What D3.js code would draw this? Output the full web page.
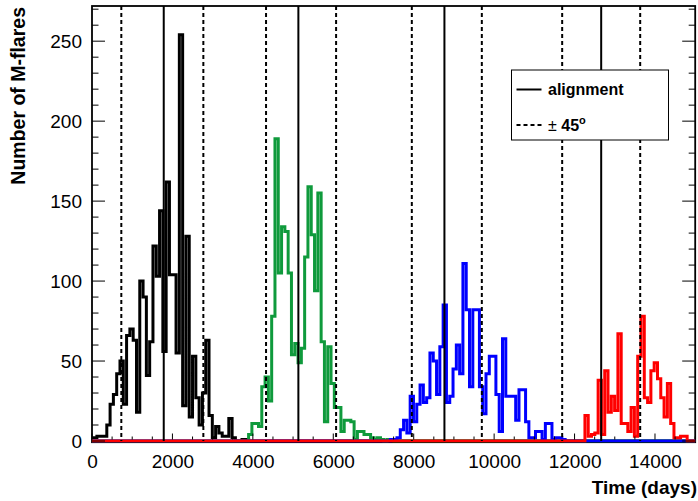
<!DOCTYPE html>
<html>
<head>
<meta charset="utf-8">
<script src="https://cdn.jsdelivr.net/npm/d3@7"></script>
<style>
  html, body { margin: 0; padding: 0; background: #fff; }
  svg { display: block; }
  text { font-family: "Liberation Sans", Arial, Helvetica, sans-serif; }
</style>
</head>
<body>
<div id="chart"></div>
<script>
// Histogram binning (days): bins of three solar rotations
const binStart = 40;
const binWidth = 82;
const nBins = 183;

// M-flare counts per bin, each series given from its first listed bin
const blackFirstBin = 0;
const blackCounts = [2,3,3,3,10,23,29,42,50,23,66,70,63,18,100,90,41,62,122,103,144,56,162,104,104,55,254,22,128,15,53,27,10,30,63,16,2,9,5,3,3,14,2,0,0,1,1];

const greenFirstBin = 47;
const greenCounts = [4,11,11,9,34,40,25,78,189,105,134,131,105,54,61,49,58,115,159,129,94,155,62,12,59,36,21,21,6,13,13,12,1,6,6,4,4,2,1,2,1,0,1,1];

const blueFirstBin = 90;
const blueCounts = [1,1,2,7,13,5,28,12,23,35,24,27,55,50,29,59,85,24,28,45,60,42,111,82,34,82,82,34,17,42,53,53,29,6,64,28,28,28,13,32,32,12,2,2,6,6,1,11,11,1,2,2,1];

const redFirstBin = 149;
const redCounts = [16,3,4,5,38,4,44,18,28,19,67,11,11,6,21,3,53,78,27,24,44,49,39,27,15,36,11,2,2,3,3];

// Alignment epochs and the +-45 degree markers (days)
const alignDays = [1784, 5132, 8764, 12662];
const dashDays = [729, 2769, 4328, 6070, 7953, 9694, 11692, 13632];

// Axis ticks
const xTickValues = [0, 2000, 4000, 6000, 8000, 10000, 12000, 14000];
const yTickValues = [0, 50, 100, 150, 200, 250];

const W = 698, H = 501;
const pLeft = 92, pRight = 695.2, pTop = 6, pBottom = 441;

const svg = d3.select("#chart").append("svg").attr("width", W).attr("height", H);

const x = d3.scaleLinear().domain([0, 15000]).range([pLeft, pRight]);
const y = d3.scaleLinear().domain([0, 272]).range([pBottom, pTop]);

svg.append("defs").append("clipPath").attr("id", "plot")
  .append("rect").attr("x", pLeft).attr("y", pTop - 2)
  .attr("width", pRight - pLeft).attr("height", pBottom - pTop + 3.5);

// Frame (drawn first so the zero-level outlines sit on top of it)
svg.append("rect").attr("x", pLeft).attr("y", pTop)
  .attr("width", pRight - pLeft).attr("height", pBottom + 1.2 - pTop)
  .attr("fill", "none").attr("stroke", "#000").attr("stroke-width", 1.8);

function fullSeries(first, counts) {
  const arr = new Array(nBins).fill(0);
  counts.forEach((c, i) => { if (first + i < nBins) arr[first + i] = c; });
  return arr;
}

const series = [
  { counts: fullSeries(blackFirstBin, blackCounts), color: "#000000" },
  { counts: fullSeries(greenFirstBin, greenCounts), color: "#0f9a3c" },
  { counts: fullSeries(blueFirstBin, blueCounts), color: "#0000ff" },
  { counts: fullSeries(redFirstBin, redCounts), color: "#ff0000" }
];

const step = d3.line().curve(d3.curveStepAfter).x(d => x(d[0])).y(d => y(d[1]));

const g = svg.append("g").attr("clip-path", "url(#plot)");

series.forEach(s => {
  const pts = s.counts.map((c, i) => [binStart + i * binWidth, c]);
  pts.unshift([0, s.counts[0]]);
  pts.push([binStart + nBins * binWidth, s.counts[nBins - 1]]);
  g.append("path").attr("d", step(pts))
    .attr("fill", "none").attr("stroke", s.color)
    .attr("stroke-width", 3).attr("stroke-linejoin", "miter");
});

// Alignment markers
g.selectAll("line.align").data(alignDays).enter().append("line")
  .attr("class", "align")
  .attr("x1", d => x(d)).attr("x2", d => x(d))
  .attr("y1", pTop).attr("y2", pBottom)
  .attr("stroke", "#000").attr("stroke-width", 2);

g.selectAll("line.dash").data(dashDays).enter().append("line")
  .attr("class", "dash")
  .attr("x1", d => x(d)).attr("x2", d => x(d))
  .attr("y1", pTop).attr("y2", pBottom)
  .attr("stroke", "#000").attr("stroke-width", 2)
  .attr("stroke-dasharray", "4,3");

// Y ticks on both sides
const yMinor = d3.range(0, 271, 10);
const tk = svg.append("g");
yMinor.forEach(v => {
  const major = v % 50 === 0;
  const len = major ? 13 : 6.5;
  tk.append("line").attr("x1", pLeft).attr("x2", pLeft + len)
    .attr("y1", y(v)).attr("y2", y(v)).attr("stroke", "#000").attr("stroke-width", 1);
  tk.append("line").attr("x1", pRight).attr("x2", pRight - len)
    .attr("y1", y(v)).attr("y2", y(v)).attr("stroke", "#000").attr("stroke-width", 1);
});

// X ticks
const xMinor = d3.range(0, 15001, 500);
xMinor.forEach(v => {
  const major = v % 2000 === 0;
  const len = major ? 6 : 3;
  tk.append("line").attr("x1", x(v)).attr("x2", x(v))
    .attr("y1", pBottom - 1.5).attr("y2", pBottom - 1.5 - len).attr("stroke", "#000").attr("stroke-width", 1);
});

// Tick labels via d3 axes (lines hidden, labels kept)
const yAxis = d3.axisLeft(y).tickValues(yTickValues).tickSize(0).tickPadding(10);
const ya = svg.append("g").attr("transform", `translate(${pLeft},0)`).call(yAxis);
ya.select(".domain").remove();
ya.selectAll("text").attr("font-size", 19).attr("fill", "#000")
  .style("font-family", "'Liberation Sans', Arial, sans-serif");

const xAxis = d3.axisBottom(x).tickValues(xTickValues).tickSize(0).tickPadding(14).tickFormat(d3.format("d"));
const xa = svg.append("g").attr("transform", `translate(0,${pBottom})`).call(xAxis);
xa.select(".domain").remove();
xa.selectAll("text").attr("font-size", 19).attr("fill", "#000")
  .style("font-family", "'Liberation Sans', Arial, sans-serif");

// Axis titles
svg.append("text").attr("x", 697).attr("y", 494).attr("text-anchor", "end")
  .attr("font-size", 19).attr("font-weight", "bold").text("Time (days)");
svg.append("text").attr("transform", "translate(25,7) rotate(-90)")
  .attr("text-anchor", "end").attr("font-size", 19.5).attr("font-weight", "bold")
  .text("Number of M-flares");

// Legend
const lg = svg.append("g");
lg.append("rect").attr("x", 511.5).attr("y", 70).attr("width", 157).attr("height", 70)
  .attr("fill", "#fff").attr("stroke", "#000").attr("stroke-width", 1);
lg.append("line").attr("x1", 516.5).attr("x2", 541.5).attr("y1", 89.5).attr("y2", 89.5)
  .attr("stroke", "#000").attr("stroke-width", 2);
lg.append("text").attr("x", 548).attr("y", 95).attr("font-size", 16).attr("font-weight", "bold")
  .text("alignment");
lg.append("line").attr("x1", 516.5).attr("x2", 541.5).attr("y1", 125).attr("y2", 125)
  .attr("stroke", "#000").attr("stroke-width", 2).attr("stroke-dasharray", "4,3");
const t2 = lg.append("text").attr("x", 548).attr("y", 131).attr("font-size", 16);
t2.append("tspan").text("±");
t2.append("tspan").attr("font-weight", "bold").text(" 45");
t2.append("tspan").attr("font-weight", "bold").attr("font-size", 11).attr("dy", -7).text("o");
</script>
</body>
</html>
